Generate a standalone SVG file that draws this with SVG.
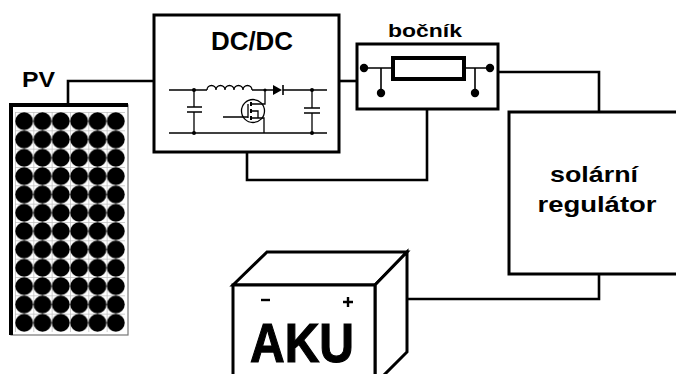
<svg xmlns="http://www.w3.org/2000/svg" width="676" height="374" viewBox="0 0 676 374">
  <style>
    .frame { fill: #fff; stroke: #000; stroke-width: 3; }
    .wire { fill: none; stroke: #000; stroke-width: 2.6; stroke-linejoin: miter; }
    .thin { fill: none; stroke: #000; stroke-width: 1.3; }
    .lbl { font-family: "Liberation Sans", Arial, sans-serif; font-weight: bold; fill: #000; }
  </style>
  <defs>
    <!-- one solar cell: black disc inside a light grey grid cell -->
    <pattern id="cells" patternUnits="userSpaceOnUse" x="15" y="112" width="18.333" height="18.333">
      <rect width="18.333" height="18.333" fill="#fff"/>
      <path d="M0 0.4H18.333M0.4 0V18.333" stroke="#bbb" stroke-width="0.8"/>
      <circle cx="9.17" cy="9.17" r="8.9" fill="#000"/>
    </pattern>
  </defs>
  <rect width="676" height="374" fill="#fff"/>

  <!-- connectors -->
  <g id="connectors" class="wire">
    <polyline points="68,104 68,81 154,81"/>
    <polyline points="339,81 357,81"/>
    <polyline points="247,152 247,180 427,180 427,109"/>
    <polyline points="498,72 599,72 599,112"/>
    <polyline points="407,299 599,299 599,274"/>
  </g>

  <!-- PV panel -->
  <g id="pv">
    <text class="lbl" x="22" y="87" font-size="22" textLength="33" lengthAdjust="spacingAndGlyphs">PV</text>
    <rect x="11" y="105" width="117" height="230" fill="#fff" stroke="#777" stroke-width="1.2"/>
    <rect x="15" y="112" width="110" height="220" fill="url(#cells)"/>
    <path d="M11 335V105H128" fill="none" stroke="#000" stroke-width="4"/>
  </g>

  <!-- DC/DC converter -->
  <g id="dcdc">
    <rect class="frame" x="154" y="15" width="185" height="137"/>
    <text class="lbl" x="252" y="50" font-size="25" text-anchor="middle" textLength="82" lengthAdjust="spacingAndGlyphs">DC/DC</text>
    <g class="thin">
      <!-- rails -->
      <path d="M169 90H207M252 90H273M283 90H327"/>
      <path d="M169 133H327"/>
      <!-- inductor -->
      <path d="M207 90a4.5 4.5 0 0 1 9 0a4.5 4.5 0 0 1 9 0a4.5 4.5 0 0 1 9 0a4.5 4.5 0 0 1 9 0a4.5 4.5 0 0 1 9 0"/>
      <!-- input capacitor -->
      <path d="M194 90V107M194 112V133M187 107H202M187 112H202"/>
      <!-- output capacitor -->
      <path d="M312 90V108M312 113V133M304 108H320M304 113H320"/>
      <!-- switch -->
      <circle cx="253" cy="111" r="11.5"/>
      <path d="M223 117H248M248 104V118"/>
      <path d="M251 102V106M251 109V113M251 116V120" stroke-width="2"/>
      <path d="M251 104H265V90M251 118H264V133M251 111H258V118"/>
    </g>
    <!-- diode -->
    <path d="M273 85L282 90L273 95Z" fill="#000"/>
    <path d="M283 85V95" stroke="#000" stroke-width="1.6"/>
    <!-- junction dots -->
    <g fill="#000">
      <circle cx="194" cy="90" r="2"/>
      <circle cx="194" cy="133" r="2"/>
      <circle cx="312" cy="90" r="2"/>
      <circle cx="312" cy="133" r="2"/>
      <circle cx="265" cy="90" r="1.6"/>
    </g>
  </g>

  <!-- shunt -->
  <g id="bocnik">
    <text class="lbl" x="425" y="37" font-size="19" text-anchor="middle" textLength="74" lengthAdjust="spacingAndGlyphs">bočník</text>
    <rect class="frame" x="357" y="44" width="141" height="65"/>
    <path d="M364 68H392M465 68H490M381 68V93M475 68V93" stroke="#000" stroke-width="1.6"/>
    <rect x="393" y="58" width="71" height="21" fill="#fff" stroke="#000" stroke-width="4"/>
    <g fill="#000">
      <circle cx="364" cy="68" r="4.2"/>
      <circle cx="490" cy="68" r="4.2"/>
      <circle cx="381" cy="93" r="4.2"/>
      <circle cx="475" cy="93" r="4.2"/>
    </g>
  </g>

  <!-- solar charge controller -->
  <g id="regulator">
    <rect class="frame" x="509" y="112" width="180" height="162"/>
    <text class="lbl" x="594" y="182" font-size="22" text-anchor="middle" textLength="88" lengthAdjust="spacingAndGlyphs">solární</text>
    <text class="lbl" x="597" y="212" font-size="22" text-anchor="middle" textLength="119" lengthAdjust="spacingAndGlyphs">regulátor</text>
  </g>

  <!-- battery -->
  <g id="aku">
    <path d="M233 285L267 252H407L375 285Z" fill="#fff" stroke="#000" stroke-width="3" stroke-linejoin="miter"/>
    <path d="M375 285L407 252V352L375 384Z" fill="#fff" stroke="#000" stroke-width="3"/>
    <rect x="233" y="285" width="142" height="100" fill="#fff" stroke="#000" stroke-width="3"/>
    <path d="M261 300H270" stroke="#000" stroke-width="2.4"/>
    <path d="M343 302H353M348 297V307" stroke="#000" stroke-width="2.4"/>
    <text class="lbl" x="302" y="362" font-size="56" text-anchor="middle" textLength="104" lengthAdjust="spacingAndGlyphs" stroke="#000" stroke-width="1.2">AKU</text>
  </g>
</svg>
